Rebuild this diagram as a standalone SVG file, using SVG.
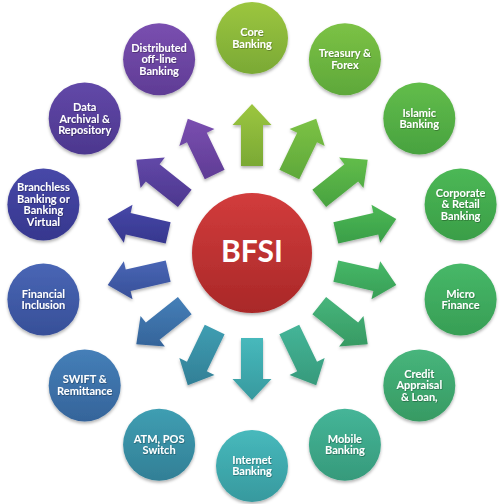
<svg xmlns="http://www.w3.org/2000/svg" width="500" height="504" viewBox="0 0 500 504">
<defs>
<filter id="sh" x="-20%" y="-20%" width="140%" height="150%"><feDropShadow dx="0" dy="2" stdDeviation="1.6" flood-color="#000" flood-opacity="0.3"/></filter>
<filter id="tsh" x="-10%" y="-20%" width="120%" height="150%"><feDropShadow dx="0.6" dy="0.8" stdDeviation="0.4" flood-color="#000" flood-opacity="0.35"/></filter>
<linearGradient id="g0" x1="0" y1="0" x2="0" y2="1"><stop offset="0" stop-color="#9cc63f"/><stop offset="1" stop-color="#7aa935"/></linearGradient>
<linearGradient id="g1" x1="0" y1="0" x2="0" y2="1"><stop offset="0" stop-color="#7cc245"/><stop offset="1" stop-color="#5ea83a"/></linearGradient>
<linearGradient id="g2" x1="0" y1="0" x2="0" y2="1"><stop offset="0" stop-color="#62bd4a"/><stop offset="1" stop-color="#48a240"/></linearGradient>
<linearGradient id="g3" x1="0" y1="0" x2="0" y2="1"><stop offset="0" stop-color="#4cb855"/><stop offset="1" stop-color="#3a9e48"/></linearGradient>
<linearGradient id="g4" x1="0" y1="0" x2="0" y2="1"><stop offset="0" stop-color="#47b868"/><stop offset="1" stop-color="#379e55"/></linearGradient>
<linearGradient id="g5" x1="0" y1="0" x2="0" y2="1"><stop offset="0" stop-color="#47b57c"/><stop offset="1" stop-color="#379a63"/></linearGradient>
<linearGradient id="g6" x1="0" y1="0" x2="0" y2="1"><stop offset="0" stop-color="#45b598"/><stop offset="1" stop-color="#369a7b"/></linearGradient>
<linearGradient id="g7" x1="0" y1="0" x2="0" y2="1"><stop offset="0" stop-color="#47b9bc"/><stop offset="1" stop-color="#37999e"/></linearGradient>
<linearGradient id="g8" x1="0" y1="0" x2="0" y2="1"><stop offset="0" stop-color="#3f9eb2"/><stop offset="1" stop-color="#327f96"/></linearGradient>
<linearGradient id="g9" x1="0" y1="0" x2="0" y2="1"><stop offset="0" stop-color="#457fb8"/><stop offset="1" stop-color="#35649a"/></linearGradient>
<linearGradient id="g10" x1="0" y1="0" x2="0" y2="1"><stop offset="0" stop-color="#4966b5"/><stop offset="1" stop-color="#374f98"/></linearGradient>
<linearGradient id="g11" x1="0" y1="0" x2="0" y2="1"><stop offset="0" stop-color="#4748a8"/><stop offset="1" stop-color="#36378e"/></linearGradient>
<linearGradient id="g12" x1="0" y1="0" x2="0" y2="1"><stop offset="0" stop-color="#6248a8"/><stop offset="1" stop-color="#4c378e"/></linearGradient>
<linearGradient id="g13" x1="0" y1="0" x2="0" y2="1"><stop offset="0" stop-color="#7a4fb0"/><stop offset="1" stop-color="#5f3c95"/></linearGradient>
<linearGradient id="gc" x1="0" y1="0" x2="0" y2="1"><stop offset="0" stop-color="#d23c3c"/><stop offset="1" stop-color="#a92828"/></linearGradient>
</defs>
<style>
.n{filter:url(#sh)}
.t{font-family:Lato,"Liberation Sans",sans-serif;font-weight:bold;font-size:11px;fill:#fff;text-anchor:middle;filter:url(#tsh)}
.c{font-family:Lato,"Liberation Sans",sans-serif;font-weight:bold;font-size:30px;fill:#fff;text-anchor:middle}
.a{filter:url(#sh)}
</style>
<g id="connectors">
<polygon class="a" fill="url(#g0)" points="241,166 241,125 232.5,125 252,104 271.5,125 263,125 263,166"/>
<polygon class="a" fill="url(#g1)" points="279.40,169.75 297.19,132.81 289.53,129.12 316.21,118.66 324.67,146.04 317.01,142.35 299.22,179.29"/>
<polygon class="a" fill="url(#g2)" points="312.38,189.78 344.43,164.22 339.13,157.57 367.71,159.72 363.45,188.07 358.15,181.42 326.10,206.98"/>
<polygon class="a" fill="url(#g3)" points="333.39,222.14 373.37,213.02 371.48,204.73 396.29,219.07 380.16,242.75 378.27,234.46 338.29,243.58"/>
<polygon class="a" fill="url(#g4)" points="333.39,281.86 373.37,290.98 371.48,299.27 396.29,284.93 380.16,261.25 378.27,269.54 338.29,260.42"/>
<polygon class="a" fill="url(#g5)" points="312.38,314.22 344.43,339.78 339.13,346.43 367.71,344.28 363.45,315.93 358.15,322.58 326.10,297.02"/>
<polygon class="a" fill="url(#g6)" points="279.40,334.25 297.19,371.19 289.53,374.88 316.21,385.34 324.67,357.96 317.01,361.65 299.22,324.71"/>
<polygon class="a" fill="url(#g7)" points="263,338 263,379 271.5,379 252,400 232.5,379 241,379 241,338"/>
<polygon class="a" fill="url(#g8)" points="224.60,334.25 206.81,371.19 214.47,374.88 187.79,385.34 179.33,357.96 186.99,361.65 204.78,324.71"/>
<polygon class="a" fill="url(#g9)" points="191.62,314.22 159.57,339.78 164.87,346.43 136.29,344.28 140.55,315.93 145.85,322.58 177.90,297.02"/>
<polygon class="a" fill="url(#g10)" points="170.61,281.86 130.63,290.98 132.52,299.27 107.71,284.93 123.84,261.25 125.73,269.54 165.71,260.42"/>
<polygon class="a" fill="url(#g11)" points="170.61,222.14 130.63,213.02 132.52,204.73 107.71,219.07 123.84,242.75 125.73,234.46 165.71,243.58"/>
<polygon class="a" fill="url(#g12)" points="191.62,189.78 159.57,164.22 164.87,157.57 136.29,159.72 140.55,188.07 145.85,181.42 177.90,206.98"/>
<polygon class="a" fill="url(#g13)" points="224.60,169.75 206.81,132.81 214.47,129.12 187.79,118.66 179.33,146.04 186.99,142.35 204.78,179.29"/>
</g>
<g id="node-bfsi">
<circle class="n" cx="252" cy="253" r="60" fill="url(#gc)"/>
<text class="c" x="252" y="262">BFSI</text>
</g>
<g id="node-core-banking">
<circle class="n" cx="252" cy="38" r="36" fill="url(#g0)"/>
<text class="t" x="252" y="36">Core</text><text class="t" x="252" y="47.5">Banking</text>
</g>
<g id="node-treasury-forex">
<circle class="n" cx="344.9" cy="59.2" r="36" fill="url(#g1)"/>
<text class="t" x="344.9" y="57">Treasury &amp;</text><text class="t" x="344.9" y="68.5">Forex</text>
</g>
<g id="node-islamic-banking">
<circle class="n" cx="419.3" cy="118.6" r="36" fill="url(#g2)"/>
<text class="t" x="419.3" y="116.5">Islamic</text><text class="t" x="419.3" y="128">Banking</text>
</g>
<g id="node-corporate-retail">
<circle class="n" cx="460.6" cy="204.4" r="36" fill="url(#g3)"/>
<text class="t" x="460.6" y="196.8">Corporate</text><text class="t" x="460.6" y="208.3">&amp; Retail</text><text class="t" x="460.6" y="219.8">Banking</text>
</g>
<g id="node-micro-finance">
<circle class="n" cx="460.6" cy="299.6" r="36" fill="url(#g4)"/>
<text class="t" x="460.6" y="297.5">Micro</text><text class="t" x="460.6" y="309">Finance</text>
</g>
<g id="node-credit-appraisal">
<circle class="n" cx="419.3" cy="385.4" r="36" fill="url(#g5)"/>
<text class="t" x="419.3" y="377.8">Credit</text><text class="t" x="419.3" y="389.3">Appraisal</text><text class="t" x="419.3" y="400.8">&amp; Loan,</text>
</g>
<g id="node-mobile-banking">
<circle class="n" cx="344.9" cy="444.8" r="36" fill="url(#g6)"/>
<text class="t" x="344.9" y="442.7">Mobile</text><text class="t" x="344.9" y="454.2">Banking</text>
</g>
<g id="node-internet-banking">
<circle class="n" cx="252" cy="466" r="36" fill="url(#g7)"/>
<text class="t" x="252" y="463.9">Internet</text><text class="t" x="252" y="475.4">Banking</text>
</g>
<g id="node-atm-pos">
<circle class="n" cx="159.1" cy="444.8" r="36" fill="url(#g8)"/>
<text class="t" x="159.1" y="442.7">ATM, POS</text><text class="t" x="159.1" y="454.2">Switch</text>
</g>
<g id="node-swift-remittance">
<circle class="n" cx="84.7" cy="385.4" r="36" fill="url(#g9)"/>
<text class="t" x="84.7" y="383.3">SWIFT &amp;</text><text class="t" x="84.7" y="394.8">Remittance</text>
</g>
<g id="node-financial-inclusion">
<circle class="n" cx="43.4" cy="299.6" r="36" fill="url(#g10)"/>
<text class="t" x="43.4" y="297.5">Financial</text><text class="t" x="43.4" y="309">Inclusion</text>
</g>
<g id="node-branchless">
<circle class="n" cx="43.4" cy="204.4" r="36" fill="url(#g11)"/>
<text class="t" x="43.4" y="191">Branchless</text><text class="t" x="43.4" y="202.5">Banking or</text><text class="t" x="43.4" y="214">Banking</text><text class="t" x="43.4" y="225.5">Virtual</text>
</g>
<g id="node-data-archival">
<circle class="n" cx="84.7" cy="118.6" r="36" fill="url(#g12)"/>
<text class="t" x="84.7" y="111">Data</text><text class="t" x="84.7" y="122.5">Archival &amp;</text><text class="t" x="84.7" y="134">Repository</text>
</g>
<g id="node-distributed">
<circle class="n" cx="159.1" cy="59.2" r="36" fill="url(#g13)"/>
<text class="t" x="159.1" y="51.6">Distributed</text><text class="t" x="159.1" y="63.1">off-line</text><text class="t" x="159.1" y="74.6">Banking</text>
</g>
</svg>
